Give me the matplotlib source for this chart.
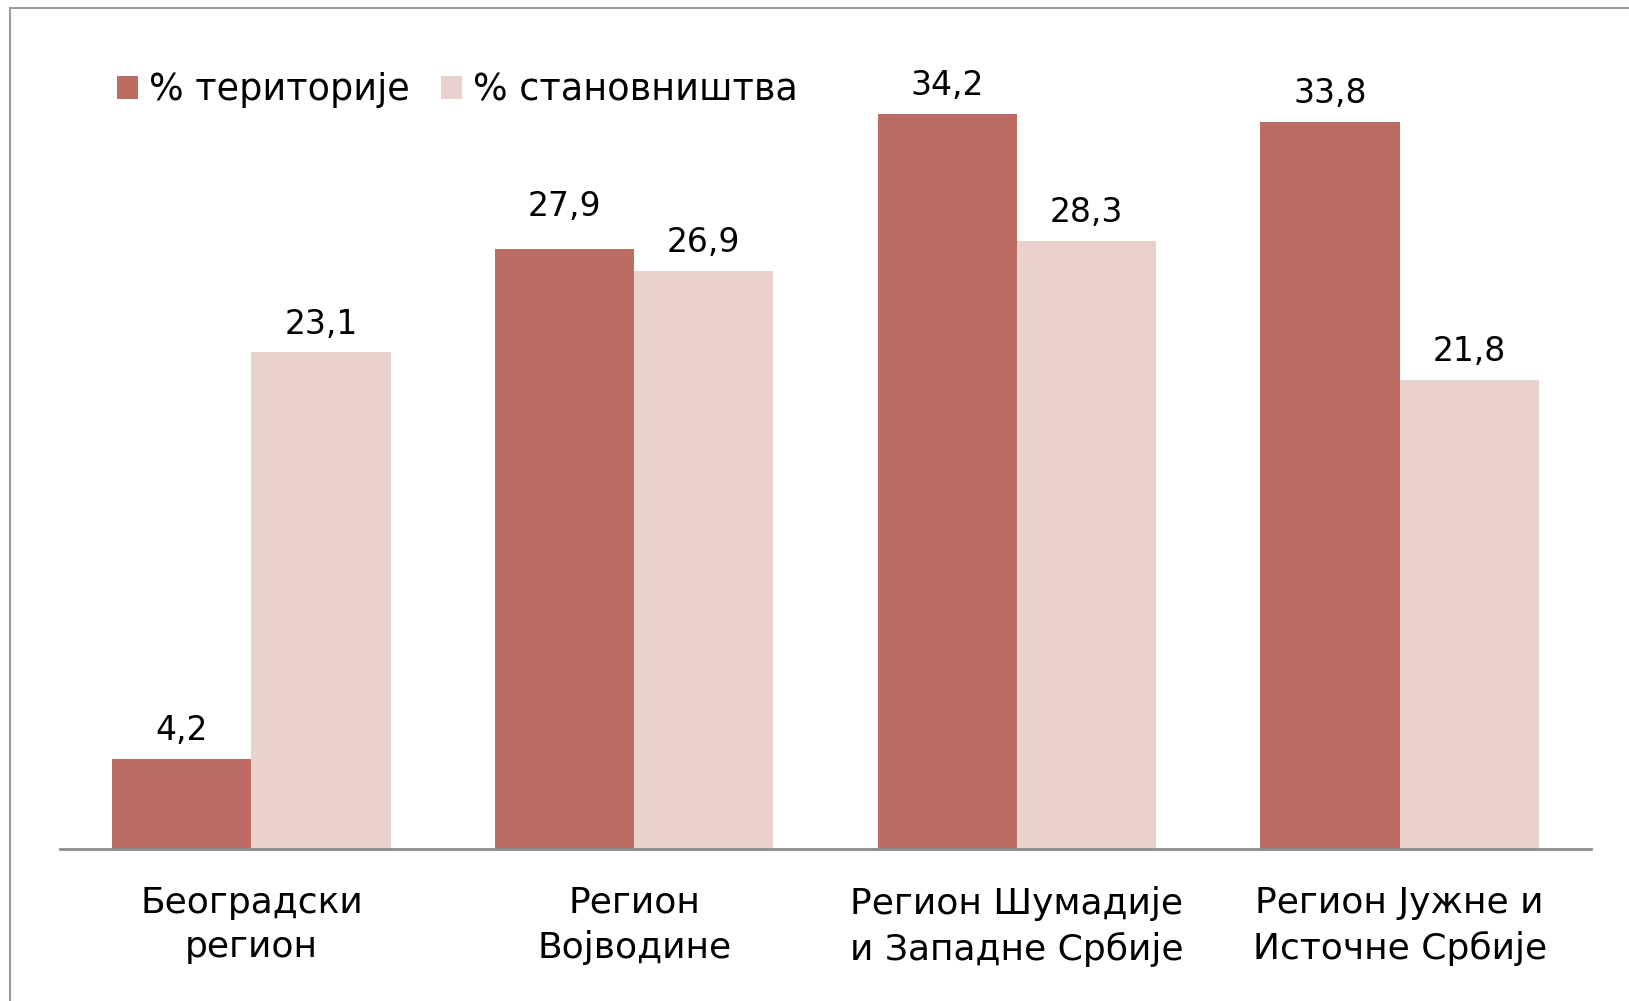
import matplotlib
matplotlib.use("Agg")
import matplotlib.pyplot as plt
from matplotlib.patches import Rectangle
import numpy as np

categories = ["Београдски\nрегион", "Регион\nВојводине",
              "Регион Шумадије\nи Западне Србије", "Регион Јужне и\nИсточне Србије"]
series_names = ["% територије", "% становништва"]
territory = [4.2, 27.9, 34.2, 33.8]
population = [23.1, 26.9, 28.3, 21.8]
labels_territory = ["4,2", "27,9", "34,2", "33,8"]
labels_population = ["23,1", "26,9", "28,3", "21,8"]

c_red = "#BD6C64"
c_light = "#E8D2CB"

plt.rcParams["font.family"] = ["DejaVu Sans"]

W, H = 1629, 1001
fig = plt.figure(figsize=(W / 100, H / 100), dpi=100)
fig.patch.set_facecolor("white")

# outer frame (cropped chart border: only left and top edges visible)
fig.patches.append(Rectangle((10 / W, -0.5), 1.5, 1.5 - 8 / H, transform=fig.transFigure,
                             fill=False, edgecolor="#9a9a9a", linewidth=1.5))

ax = fig.add_axes([60 / W, (H - 849) / H, 1531 / W, 774 / H])
x = np.arange(len(categories))
bw = 0.3635
b1 = ax.bar(x - bw / 2, territory, bw, color=c_red, label=series_names[0])
b2 = ax.bar(x + bw / 2, population, bw, color=c_light, label=series_names[1])

# label offsets (points); a label is lifted when it would collide with the neighbour's label
base_off = 8.5
for i, (rt, rp, lt, lp) in enumerate(zip(b1, b2, labels_territory, labels_population)):
    ht, hp = rt.get_height(), rp.get_height()
    off_t = base_off + (10 if 0 < ht - hp < 2.5 else 0)
    off_p = base_off + (10 if 0 < hp - ht < 2.5 else 0)
    for r, t, off in ((rt, lt, off_t), (rp, lp, off_p)):
        ax.annotate(t, (r.get_x() + r.get_width() / 2, r.get_height()),
                    xytext=(0, off), textcoords="offset points",
                    ha="center", va="bottom", fontsize=23.8, color="black")

ax.set_xlim(-0.5, 3.5)
ax.set_ylim(0, 36)
ax.set_yticks([])
ax.set_xticks(x)
ax.set_xticklabels(categories, fontsize=26, linespacing=1.38)
ax.tick_params(axis="x", length=0, pad=26.5)
for s in ("top", "right", "left"):
    ax.spines[s].set_visible(False)
ax.spines["bottom"].set_color("#8c8c8c")
ax.spines["bottom"].set_linewidth(2)
ax.set_facecolor("none")

fig.legend(handles=[b1, b2], labels=series_names, loc="center left",
           bbox_to_anchor=(117 / W, 1 - 90 / H), ncol=2, frameon=False,
           fontsize=26.3, handlelength=0.58, handleheight=0.58, handletextpad=0.3,
           columnspacing=0.85, borderpad=0, borderaxespad=0)

fig.savefig("out.png", dpi=100, facecolor="white")
